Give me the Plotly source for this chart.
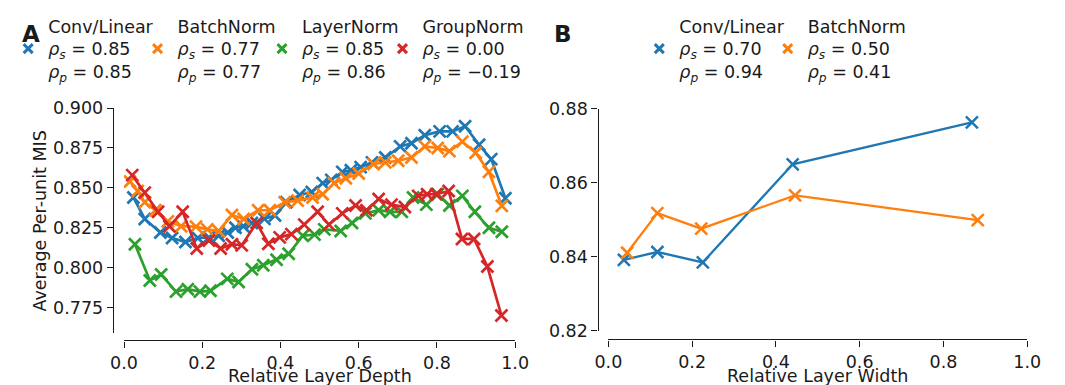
import plotly.graph_objects as go

W, H = 1065, 385
OFF = 8  # the page body has an 8px margin

# ---------------- Panel A data (Relative Layer Depth) ----------------
conv_x = [0.024, 0.053, 0.093, 0.123, 0.157, 0.189, 0.217, 0.242, 0.265, 0.285, 0.305,
          0.327, 0.359, 0.386, 0.415, 0.449, 0.480, 0.508, 0.530, 0.558, 0.580, 0.605,
          0.634, 0.668, 0.706, 0.735, 0.769, 0.807, 0.840, 0.872, 0.908, 0.939, 0.975]
conv_y = [0.844, 0.8305, 0.822, 0.8186, 0.8161, 0.8186, 0.819, 0.820, 0.822, 0.825, 0.826,
          0.828, 0.8306, 0.8327, 0.841, 0.8455, 0.8474, 0.853, 0.855, 0.860, 0.861, 0.863,
          0.866, 0.869, 0.876, 0.878, 0.883, 0.8854, 0.8854, 0.8886, 0.877, 0.868, 0.8435]

bn_x = [0.015, 0.035, 0.053, 0.080, 0.112, 0.146, 0.184, 0.213, 0.242, 0.276, 0.306,
        0.343, 0.373, 0.411, 0.444, 0.482, 0.508, 0.537, 0.567, 0.600, 0.638, 0.668,
        0.701, 0.735, 0.769, 0.802, 0.832, 0.865, 0.899, 0.933, 0.966]
bn_y = [0.854, 0.848, 0.841, 0.836, 0.829, 0.826, 0.8257, 0.824, 0.823, 0.833, 0.8305,
        0.836, 0.836, 0.841, 0.842, 0.844, 0.846, 0.853, 0.856, 0.859, 0.865, 0.866,
        0.867, 0.869, 0.876, 0.875, 0.873, 0.879, 0.872, 0.860, 0.8387]

ln_x = [0.028, 0.066, 0.095, 0.133, 0.163, 0.194, 0.221, 0.264, 0.293, 0.327, 0.356,
        0.390, 0.421, 0.457, 0.487, 0.512, 0.554, 0.583, 0.617, 0.651, 0.680, 0.710,
        0.739, 0.773, 0.802, 0.832, 0.865, 0.897, 0.933, 0.966]
ln_y = [0.8147, 0.792, 0.7957, 0.785, 0.7865, 0.785, 0.7855, 0.793, 0.791, 0.799, 0.8015,
        0.805, 0.8087, 0.820, 0.8207, 0.824, 0.823, 0.828, 0.834, 0.836, 0.835, 0.835,
        0.844, 0.8395, 0.846, 0.839, 0.845, 0.835, 0.825, 0.8225]

gn_x = [0.021, 0.053, 0.087, 0.116, 0.150, 0.186, 0.217, 0.247, 0.276, 0.301, 0.339,
        0.369, 0.398, 0.428, 0.461, 0.495, 0.524, 0.558, 0.592, 0.620, 0.651, 0.684,
        0.718, 0.752, 0.775, 0.798, 0.830, 0.864, 0.895, 0.929, 0.965]
gn_y = [0.858, 0.847, 0.835, 0.826, 0.835, 0.812, 0.817, 0.812, 0.8147, 0.814, 0.828,
        0.815, 0.819, 0.821, 0.827, 0.835, 0.827, 0.834, 0.839, 0.836, 0.843, 0.8395,
        0.838, 0.845, 0.846, 0.846, 0.848, 0.818, 0.818, 0.8007, 0.770]

# ---------------- Panel B data (Relative Layer Width) ----------------
wconv_x = [0.037, 0.117, 0.2255, 0.440, 0.868]
wconv_y = [0.8392, 0.8413, 0.8385, 0.865, 0.8763]
wbn_x = [0.0448, 0.117, 0.2217, 0.4457, 0.882]
wbn_y = [0.8411, 0.8518, 0.8476, 0.8566, 0.8499]

# Legend labels
labels_a = ["Conv/Linear", "BatchNorm", "LayerNorm", "GroupNorm"]
rs_a = ["0.85", "0.77", "0.85", "0.00"]
rp_a = ["0.85", "0.77", "0.86", "\u22120.19"]
labels_b = ["Conv/Linear", "BatchNorm"]
rs_b = ["0.70", "0.50"]
rp_b = ["0.94", "0.41"]

yticks_a = [0.775, 0.800, 0.825, 0.850, 0.875, 0.900]
yticks_b = [0.82, 0.84, 0.86, 0.88]
xticks = [0.0, 0.2, 0.4, 0.6, 0.8, 1.0]

COLORS = ["#1f77b4", "#ff7f0e", "#2ca02c", "#d62728"]
FONT = "DejaVu Sans"
FS = 17.5
LFS = 17.5
INK = "#1a1a1a"

FW, FH = W - OFF, H - OFF


def px_x(p):
    return (p - OFF) / FW


def px_y(p):
    return 1 - (p - OFF) / FH


fig = go.Figure()

series_a = [(conv_x, conv_y), (bn_x, bn_y), (ln_x, ln_y), (gn_x, gn_y)]
for i, (xs, ys) in enumerate(series_a):
    fig.add_trace(go.Scatter(
        x=xs, y=ys, mode="lines+markers", xaxis="x", yaxis="y",
        line=dict(color=COLORS[i], width=2.7),
        marker=dict(symbol="x-thin", size=12, line=dict(color=COLORS[i], width=2.7)),
        showlegend=False))

series_b = [(wconv_x, wconv_y), (wbn_x, wbn_y)]
for i, (xs, ys) in enumerate(series_b):
    fig.add_trace(go.Scatter(
        x=xs, y=ys, mode="lines+markers", xaxis="x2", yaxis="y2",
        line=dict(color=COLORS[i], width=2.3),
        marker=dict(symbol="x-thin", size=12, line=dict(color=COLORS[i], width=2.5)),
        showlegend=False))


def label(name, rs, rp):
    return (f"{name}<br><i>\u03c1<sub>s</sub></i> = {rs}"
            f"<br><i>\u03c1<sub>p</sub></i> = {rp}")


legend_text_left_a = [37, 168, 294, 416]
legend_text_left_b = [676, 806]
legend_layouts = {}
k = 1


def legend_cfg(text_left):
    return dict(x=px_x(text_left - 42), y=px_y(-10),
                xanchor="left", yanchor="top",
                bgcolor="rgba(0,0,0,0)", borderwidth=0,
                font=dict(family=FONT, size=LFS, color=INK),
                valign="middle", itemclick=False, itemdoubleclick=False)


for i in range(4):
    name = "legend" if k == 1 else f"legend{k}"
    fig.add_trace(go.Scatter(
        x=[None], y=[None], mode="markers", xaxis="x", yaxis="y",
        marker=dict(symbol="x-thin", size=9, line=dict(color=COLORS[i], width=3)),
        name=label(labels_a[i], rs_a[i], rp_a[i]), legend=name, showlegend=True))
    legend_layouts[name] = legend_cfg(legend_text_left_a[i])
    k += 1
for i in range(2):
    name = f"legend{k}"
    fig.add_trace(go.Scatter(
        x=[None], y=[None], mode="markers", xaxis="x2", yaxis="y2",
        marker=dict(symbol="x-thin", size=9, line=dict(color=COLORS[i], width=3)),
        name=label(labels_b[i], rs_b[i], rp_b[i]), legend=name, showlegend=True))
    legend_layouts[name] = legend_cfg(legend_text_left_b[i])
    k += 1

axis_common = dict(showline=True, linecolor=INK, linewidth=1.3, ticks="outside",
                   ticklen=6, tickwidth=1.3, tickcolor=INK, showgrid=False,
                   zeroline=False, automargin=False,
                   tickfont=dict(family=FONT, size=FS, color=INK))

fig.update_layout(
    width=FW, height=FH,
    margin=dict(l=0, r=0, t=0, b=0),
    paper_bgcolor="white", plot_bgcolor="white",
    font=dict(family=FONT, size=FS, color=INK),
    xaxis=dict(domain=[px_x(112.3), px_x(508.3)], range=[0, 1], anchor="free",
               position=px_y(338.3), tickvals=xticks, tickformat=".1f", **axis_common),
    yaxis=dict(domain=[px_y(331), px_y(95)], range=[0.7588, 0.9], anchor="free",
               position=px_x(101), tickvals=yticks_a, tickformat=".3f", **axis_common),
    xaxis2=dict(domain=[px_x(602.7), px_x(1026.7)], range=[0, 1], anchor="free",
                position=px_y(337.3), tickvals=xticks, tickformat=".1f", **axis_common),
    yaxis2=dict(domain=[px_y(328.3), px_y(95.7)], range=[0.82, 0.88], anchor="free",
                position=px_x(591.7), tickvals=yticks_b, tickformat=".2f", **axis_common),
    **legend_layouts,
)

annots = [
    dict(text="<b>A</b>", x=px_x(7), y=px_y(2), xanchor="left", yanchor="top", size=23),
    dict(text="<b>B</b>", x=px_x(546), y=px_y(2), xanchor="left", yanchor="top", size=23),
    dict(text="Relative Layer Depth", x=px_x(310.3), y=px_y(376), xanchor="center",
         yanchor="middle", size=FS),
    dict(text="Relative Layer Width", x=px_x(814.7), y=px_y(376), xanchor="center",
         yanchor="middle", size=FS),
    dict(text="Average Per-unit MIS", x=px_x(27), y=px_y(213), xanchor="center",
         yanchor="middle", textangle=-90, size=FS),
]
for a in annots:
    size = a.pop("size")
    fig.add_annotation(xref="paper", yref="paper", showarrow=False,
                       font=dict(family=FONT, size=size, color=INK), **a)

fig.write_html("out.html")
